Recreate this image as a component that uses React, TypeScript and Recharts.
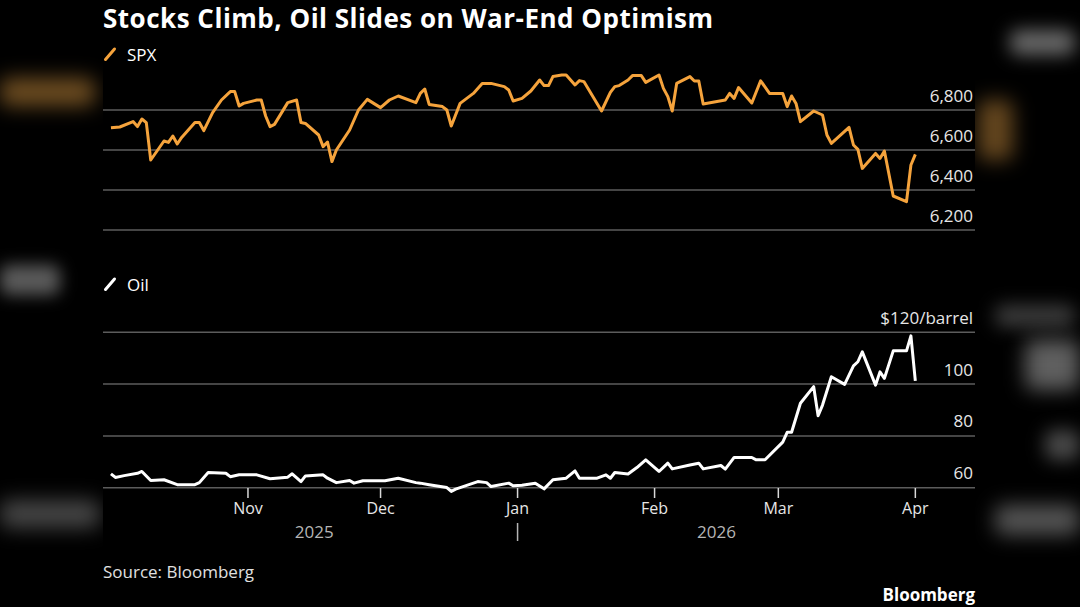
import React from "react";
import { LineChart, Line, XAxis, YAxis, ReferenceLine } from "recharts";

// S&P 500 index level
const spxDates = [
  "2025-10-01", "2025-10-03", "2025-10-06", "2025-10-07", "2025-10-08", "2025-10-09", "2025-10-10",
  "2025-10-13", "2025-10-14", "2025-10-15", "2025-10-16", "2025-10-17", "2025-10-20", "2025-10-21",
  "2025-10-22", "2025-10-24", "2025-10-26", "2025-10-28", "2025-10-29", "2025-10-30", "2025-10-31",
  "2025-11-03", "2025-11-04", "2025-11-05", "2025-11-06", "2025-11-07", "2025-11-10", "2025-11-12",
  "2025-11-13", "2025-11-14", "2025-11-17", "2025-11-18", "2025-11-19", "2025-11-20", "2025-11-21",
  "2025-11-24", "2025-11-26", "2025-11-28", "2025-12-01", "2025-12-03", "2025-12-05", "2025-12-09",
  "2025-12-10", "2025-12-11", "2025-12-12", "2025-12-15", "2025-12-16", "2025-12-17", "2025-12-19",
  "2025-12-22", "2025-12-24", "2025-12-26", "2025-12-29", "2025-12-30", "2025-12-31", "2026-01-02",
  "2026-01-04", "2026-01-06", "2026-01-07", "2026-01-08", "2026-01-09", "2026-01-11", "2026-01-12",
  "2026-01-14", "2026-01-15", "2026-01-16", "2026-01-20", "2026-01-22", "2026-01-23", "2026-01-24",
  "2026-01-26", "2026-01-27", "2026-01-29", "2026-01-30", "2026-02-02", "2026-02-03", "2026-02-04",
  "2026-02-05", "2026-02-06", "2026-02-09", "2026-02-10", "2026-02-11", "2026-02-12", "2026-02-17",
  "2026-02-18", "2026-02-19", "2026-02-20", "2026-02-23", "2026-02-25", "2026-02-27", "2026-03-02",
  "2026-03-03", "2026-03-04", "2026-03-05", "2026-03-06", "2026-03-09", "2026-03-11", "2026-03-12",
  "2026-03-13", "2026-03-17", "2026-03-18", "2026-03-19", "2026-03-20", "2026-03-23", "2026-03-24",
  "2026-03-25", "2026-03-27", "2026-03-30", "2026-03-31", "2026-04-01",
];
const spxValues = [
  6711, 6715, 6742, 6717, 6755, 6737, 6550,
  6645, 6638, 6670, 6630, 6663, 6737, 6737,
  6697, 6787, 6850, 6892, 6892, 6820, 6833,
  6850, 6850, 6770, 6717, 6728, 6837, 6850,
  6737, 6733, 6675, 6617, 6640, 6542, 6600,
  6700, 6800, 6853, 6812, 6850, 6870, 6837,
  6883, 6905, 6828, 6817, 6800, 6720, 6833,
  6883, 6933, 6933, 6917, 6900, 6845, 6858,
  6895, 6950, 6922, 6922, 6967, 6975, 6975,
  6925, 6947, 6942, 6795, 6888, 6917, 6922,
  6950, 6972, 6972, 6938, 6975, 6908, 6867,
  6795, 6933, 6967, 6945, 6945, 6830, 6850,
  6883, 6858, 6912, 6835, 6946, 6883, 6883,
  6817, 6870, 6833, 6742, 6795, 6775, 6675,
  6633, 6713, 6625, 6603, 6508, 6583, 6558,
  6595, 6370, 6342, 6525, 6578,
];

// Oil, $ per barrel
const oilDates = [
  "2025-10-01", "2025-10-02", "2025-10-04", "2025-10-07", "2025-10-08", "2025-10-10", "2025-10-13",
  "2025-10-16", "2025-10-20", "2025-10-21", "2025-10-23", "2025-10-27", "2025-10-28", "2025-10-30",
  "2025-11-03", "2025-11-06", "2025-11-10", "2025-11-11", "2025-11-13", "2025-11-14", "2025-11-18",
  "2025-11-19", "2025-11-21", "2025-11-24", "2025-11-25", "2025-11-27", "2025-12-02", "2025-12-05",
  "2025-12-09", "2025-12-10", "2025-12-12", "2025-12-16", "2025-12-17", "2025-12-18", "2025-12-23",
  "2025-12-25", "2025-12-26", "2025-12-30", "2025-12-31", "2026-01-02", "2026-01-05", "2026-01-07",
  "2026-01-09", "2026-01-12", "2026-01-14", "2026-01-15", "2026-01-19", "2026-01-21", "2026-01-22",
  "2026-01-23", "2026-01-26", "2026-01-28", "2026-01-30", "2026-02-02", "2026-02-04", "2026-02-05",
  "2026-02-09", "2026-02-11", "2026-02-12", "2026-02-16", "2026-02-17", "2026-02-19", "2026-02-23",
  "2026-02-24", "2026-02-26", "2026-03-02", "2026-03-03", "2026-03-04", "2026-03-06", "2026-03-09",
  "2026-03-10", "2026-03-11", "2026-03-13", "2026-03-16", "2026-03-18", "2026-03-19", "2026-03-20",
  "2026-03-23", "2026-03-24", "2026-03-25", "2026-03-27", "2026-03-30", "2026-03-31", "2026-04-01",
];
const oilValues = [
  65.4, 64.0, 64.7, 65.6, 66.3, 62.8, 63.1,
  61.2, 61.2, 62.0, 65.9, 65.6, 64.3, 65.0,
  65.0, 63.5, 64.1, 65.4, 62.4, 64.6, 65.0,
  63.7, 62.0, 62.8, 61.8, 62.7, 62.7, 63.7,
  62.0, 61.8, 61.2, 60.1, 58.6, 59.5, 62.4,
  62.0, 60.5, 61.8, 60.8, 61.0, 61.8, 59.6,
  63.1, 63.7, 66.5, 63.7, 63.7, 65.0, 63.7,
  65.9, 65.3, 67.8, 70.8, 66.3, 69.5, 67.3,
  68.8, 69.5, 67.3, 68.6, 67.2, 71.7, 71.7,
  70.8, 70.8, 77.6, 81.4, 81.4, 92.6, 99.0,
  87.8, 91.9, 102.8, 99.9, 107.0, 108.6, 112.4,
  99.6, 104.7, 102.2, 112.8, 112.8, 118.6, 101.2,
];

const monthTicks = ["2025-11-01", "2025-12-01", "2026-01-01", "2026-02-01", "2026-03-01", "2026-04-01"];
const monthLabels = ["Nov", "Dec", "Jan", "Feb", "Mar", "Apr"];
const yearLabels = ["2025", "2026"];
const yearBreak = "2026-01-01";
const spxTicks = [6200, 6400, 6600, 6800];
const oilTicks = [60, 80, 100, 120];

const START = Date.UTC(2025, 9, 1);
const dayOf = (s: string) => Math.round((Date.parse(s) - START) / 86400000);

const spxData = spxDates.map((d, i) => ({ day: dayOf(d), value: spxValues[i] }));
const oilData = oilDates.map((d, i) => ({ day: dayOf(d), value: oilValues[i] }));
const monthDays = monthTicks.map(dayOf);
const breakDay = dayOf(yearBreak);
const firstDay = oilData[0].day;
const lastDay = oilData[oilData.length - 1].day;
const yearDays = [(firstDay + breakDay) / 2, breakDay, (breakDay + lastDay) / 2];

const X_DOMAIN = [-1.8, 195.5];
const FONT = "'Open Sans', 'Noto Sans', sans-serif";
const ORANGE = "#f5a33c";
const GRID = "#5c5c5c";

const fmtSpx = (v: number) => v.toLocaleString("en-US");
const fmtOil = (v: number) => (v === oilTicks[oilTicks.length - 1] ? `$${v}/barrel` : `${v}`);

// label sitting above a gridline, flush right
const GridLabel = (props: any) => {
  const { viewBox, text } = props;
  if (!viewBox) return null;
  return (
    <text
      x={viewBox.x + viewBox.width - 2} y={viewBox.y - 15} textAnchor="end" dominantBaseline="central"
      fill="#e6e6e6" fontSize={17} fontFamily={FONT}
    >
      {text}
    </text>
  );
};

const MonthTick = (props: any) => {
  const { x, y, payload } = props;
  const i = monthDays.indexOf(payload.value);
  return (
    <g>
      <line x1={x} x2={x} y1={y - 5} y2={y + 5} stroke="#d8d8d8" strokeWidth={1.5} />
      <text x={x} y={y + 15} textAnchor="middle" dominantBaseline="central" fill="#e6e6e6" fontSize={16} fontFamily={FONT}>
        {monthLabels[i]}
      </text>
    </g>
  );
};

const YearTick = (props: any) => {
  const { x, y, payload } = props;
  if (payload.value === breakDay) {
    return <line x1={x} x2={x} y1={y + 8} y2={y + 26} stroke="#b5b5b5" strokeWidth={1.5} />;
  }
  const label = payload.value < breakDay ? yearLabels[0] : yearLabels[1];
  return (
    <text x={x} y={y + 16} textAnchor="middle" dominantBaseline="central" fill="#b5b5b5" fontSize={17} fontFamily={FONT}>
      {label}
    </text>
  );
};

const Slash = ({ color }: { color: string }) => (
  <svg width={14} height={16} style={{ position: "absolute", left: 0, top: 1 }}>
    <line x1={2.5} y1={13.5} x2={11.5} y2={3} stroke={color} strokeWidth={3} strokeLinecap="round" />
  </svg>
);

const blob = (left: number, top: number, w: number, h: number, color: string, blur: number) => (
  <div
    style={{
      position: "absolute", left, top, width: w, height: h, background: color,
      filter: `blur(${blur}px)`, borderRadius: 8,
    }}
  />
);

export default function App() {
  return (
    <div style={{ position: "fixed", left: 0, top: 0, width: 1080, height: 607, background: "#000", overflow: "hidden", fontFamily: FONT }}>
      {/* blurred backdrop at the sides */}
      {blob(0, 78, 95, 28, "rgba(200,140,60,0.55)", 10)}
      {blob(0, 265, 60, 30, "rgba(200,200,200,0.45)", 8)}
      {blob(0, 500, 100, 28, "rgba(200,200,200,0.35)", 10)}
      {blob(1010, 30, 65, 25, "rgba(210,210,210,0.5)", 9)}
      {blob(978, 100, 35, 60, "rgba(200,140,60,0.5)", 10)}
      {blob(995, 305, 80, 22, "rgba(200,200,200,0.3)", 9)}
      {blob(1025, 340, 55, 50, "rgba(210,210,210,0.45)", 10)}
      {blob(1045, 430, 35, 30, "rgba(210,210,210,0.35)", 9)}
      {blob(995, 505, 85, 30, "rgba(210,210,210,0.4)", 10)}
      <div style={{ position: "absolute", left: 103, right: 105, top: 0, bottom: 0, background: "#000" }} />

      <div style={{ position: "absolute", left: 103, top: 0, color: "#fff", fontWeight: 700, fontSize: 26, letterSpacing: 0.5, lineHeight: "normal", whiteSpace: "nowrap" }}>
        Stocks Climb, Oil Slides on War-End Optimism
      </div>

      <div style={{ position: "absolute", left: 103, top: 45, height: 20, paddingLeft: 24, color: "#fff", fontSize: 17, lineHeight: "20px" }}>
        <Slash color={ORANGE} />
        SPX
      </div>
      <div style={{ position: "absolute", left: 103, top: 275, height: 20, paddingLeft: 24, color: "#fff", fontSize: 17, lineHeight: "20px" }}>
        <Slash color="#fff" />
        Oil
      </div>

      <div style={{ position: "absolute", left: 0, top: 0 }}>
        <LineChart width={1080} height={240} data={spxData} margin={{ top: 70, right: 105, bottom: 10, left: 103 }}>
          <XAxis type="number" dataKey="day" domain={X_DOMAIN} hide />
          <YAxis domain={[6200, 7000]} hide />
          {spxTicks.map((v) => (
            <ReferenceLine key={v} y={v} stroke={GRID} strokeWidth={1.5} label={<GridLabel text={fmtSpx(v)} />} />
          ))}
          <Line type="linear" dataKey="value" stroke={ORANGE} strokeWidth={3} dot={false} strokeLinejoin="round" isAnimationActive={false} />
        </LineChart>
      </div>

      <div style={{ position: "absolute", left: 0, top: 300 }}>
        <LineChart width={1080} height={245} data={oilData} margin={{ top: 27, right: 105, bottom: 0, left: 103 }}>
          <XAxis
            xAxisId="m" type="number" dataKey="day" domain={X_DOMAIN} ticks={monthDays} interval={0} height={22}
            axisLine={false} tickLine={false} tickSize={0} tickMargin={0} tick={MonthTick}
          />
          <XAxis
            xAxisId="y" type="number" dataKey="day" domain={X_DOMAIN} ticks={yearDays} interval={0} height={30}
            axisLine={false} tickLine={false} tickSize={0} tickMargin={0} tick={YearTick}
          />
          <YAxis domain={[58, 122]} hide />
          {oilTicks.map((v) => (
            <ReferenceLine key={v} xAxisId="m" y={v} stroke={GRID} strokeWidth={1.5} label={<GridLabel text={fmtOil(v)} />} />
          ))}
          <Line xAxisId="m" type="linear" dataKey="value" stroke="#fff" strokeWidth={3} dot={false} strokeLinejoin="round" isAnimationActive={false} />
        </LineChart>
      </div>

      <div style={{ position: "absolute", left: 103, top: 561, color: "#e0e0e0", fontSize: 17, lineHeight: "22px" }}>
        Source: Bloomberg
      </div>
      <div style={{ position: "absolute", right: 105, top: 584, color: "#fff", fontSize: 17, fontWeight: 700, lineHeight: "22px" }}>
        Bloomberg
      </div>
    </div>
  );
}
